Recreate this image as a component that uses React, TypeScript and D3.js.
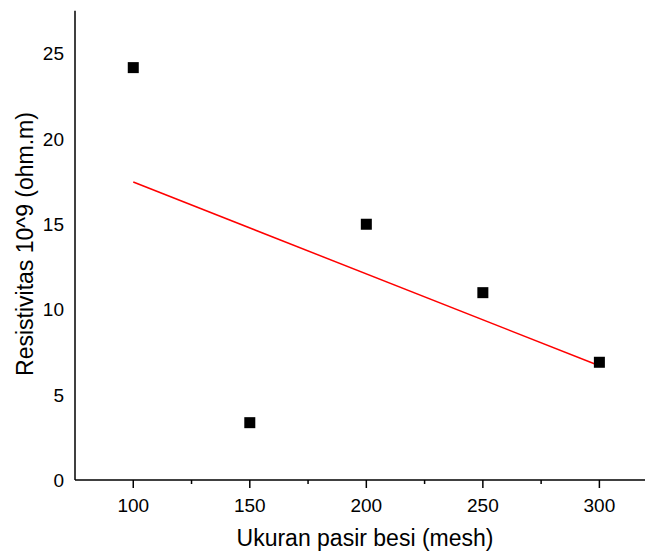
import React, { useRef, useEffect } from 'react';
import * as d3 from 'd3';

// mesh sizes and measured resistivity (x 10^9 ohm.m)
const meshSizes = [100, 150, 200, 250, 300];
const resistivity = [24.17, 3.36, 14.99, 10.98, 6.9];
const xTicks = [100, 150, 200, 250, 300];
const xMinorTicks = [125, 175, 225, 275];
const yTicks = [0, 5, 10, 15, 20, 25];

const width = 645;
const height = 553;

const App = () => {
  const svgRef = useRef<SVGSVGElement>(null);

  useEffect(() => {
    const svg = d3.select(svgRef.current);
    svg.selectAll('*').remove();

    const x = d3.scaleLinear().domain([75, 320]).range([75, 646]);
    const y = d3.scaleLinear().domain([0, 27.5]).range([480, 10.8]);
    const font = 'Liberation Sans, Arial, sans-serif';

    // linear fit through the points
    const mx = d3.mean(meshSizes)!;
    const my = d3.mean(resistivity)!;
    const sxy = d3.sum(meshSizes, (v, i) => (v - mx) * (resistivity[i] - my));
    const sxx = d3.sum(meshSizes, v => (v - mx) ** 2);
    const slope = sxy / sxx;
    const fit = (v: number) => my + slope * (v - mx);
    const x0 = d3.min(meshSizes)!;
    const x1 = d3.max(meshSizes)!;

    svg.append('line')
      .attr('x1', x(x0)).attr('y1', y(fit(x0)))
      .attr('x2', x(x1)).attr('y2', y(fit(x1)))
      .attr('stroke', '#ff0000')
      .attr('stroke-width', 1.5);

    // markers
    const size = 11;
    svg.append('g')
      .selectAll('rect')
      .data(meshSizes)
      .join('rect')
      .attr('x', d => x(d) - size / 2)
      .attr('y', (d, i) => y(resistivity[i]) - size / 2)
      .attr('width', size)
      .attr('height', size)
      .attr('fill', '#000');

    // axes lines
    svg.append('line')
      .attr('x1', x(75)).attr('x2', width)
      .attr('y1', y(0)).attr('y2', y(0))
      .attr('stroke', '#000').attr('stroke-width', 1.5);
    svg.append('line')
      .attr('x1', x(75)).attr('x2', x(75))
      .attr('y1', y(0)).attr('y2', y(27.5))
      .attr('stroke', '#000').attr('stroke-width', 1.5);

    // x ticks
    svg.append('g')
      .selectAll('line')
      .data(xTicks)
      .join('line')
      .attr('x1', d => x(d)).attr('x2', d => x(d))
      .attr('y1', y(0)).attr('y2', y(0) + 8)
      .attr('stroke', '#000').attr('stroke-width', 1.5);
    svg.append('g')
      .selectAll('line')
      .data(xMinorTicks)
      .join('line')
      .attr('x1', d => x(d)).attr('x2', d => x(d))
      .attr('y1', y(0)).attr('y2', y(0) + 4)
      .attr('stroke', '#000').attr('stroke-width', 1.5);

    svg.append('g')
      .selectAll('text')
      .data(xTicks)
      .join('text')
      .attr('x', d => x(d))
      .attr('y', 512)
      .attr('text-anchor', 'middle')
      .attr('font-family', font)
      .attr('font-size', 19)
      .text(d => d);

    svg.append('g')
      .selectAll('text')
      .data(yTicks)
      .join('text')
      .attr('x', 64)
      .attr('y', d => y(d) + 7)
      .attr('text-anchor', 'end')
      .attr('font-family', font)
      .attr('font-size', 19)
      .text(d => d);

    // titles
    svg.append('text')
      .attr('x', 365)
      .attr('y', 546)
      .attr('text-anchor', 'middle')
      .attr('font-family', font)
      .attr('font-size', 23)
      .text('Ukuran pasir besi (mesh)');

    svg.append('text')
      .attr('transform', 'translate(33,244) rotate(-90)')
      .attr('text-anchor', 'middle')
      .attr('font-family', font)
      .attr('font-size', 23)
      .text('Resistivitas 10^9 (ohm.m)');
  }, []);

  return (
    <div style={{ position: 'fixed', left: 0, top: 0, background: '#fff' }}>
      <svg ref={svgRef} width={width} height={height} style={{ display: 'block' }} />
    </div>
  );
};

export default App;
